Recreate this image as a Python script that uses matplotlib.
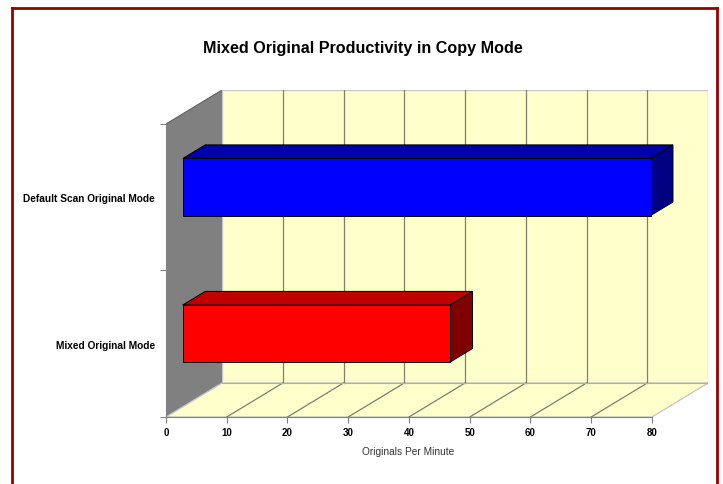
import matplotlib
matplotlib.use("Agg")
import matplotlib.pyplot as plt
from matplotlib.patches import Polygon
from matplotlib.lines import Line2D

# data
categories = ["Mixed Original Mode", "Default Scan Original Mode"]
values = [44, 77]
front_colors = ["#FF0000", "#0000FF"]
top_colors = ["#C00000", "#0000A8"]
side_colors = ["#800000", "#000080"]
x_ticks = [0, 10, 20, 30, 40, 50, 60, 70, 80]

title = "Mixed Original Productivity in Copy Mode"
xlabel = "Originals Per Minute"

plt.rcParams['font.family'] = ['Liberation Sans', 'DejaVu Sans']

# 3d look: depth offset in data units
XMAX = 80
DX = 9.22
DY = 0.232
D0, D1 = 0.30, 0.70
H = 0.195

fig = plt.figure(figsize=(7.23, 4.85), dpi=100)
ax = fig.add_axes([166 / 723, 1 - 418 / 485, 542 / 723, 327 / 485])
ax.set_xlim(0, XMAX + DX)
ax.set_ylim(0, len(categories) + DY)

grid_col = "#7f7f6a"

# side wall (gray)
ax.add_patch(Polygon([(0, 0), (DX, DY), (DX, 2 + DY), (0, 2)],
                     closed=True, facecolor="#808080", edgecolor="#606060", lw=0.8, zorder=1))
# back wall
ax.add_patch(Polygon([(DX, DY), (XMAX + DX, DY), (XMAX + DX, 2 + DY), (DX, 2 + DY)],
                     closed=True, facecolor="#FFFFCC", edgecolor="#c8c8c8", lw=1.0, zorder=1))
# floor
ax.add_patch(Polygon([(0, 0), (XMAX, 0), (XMAX + DX, DY), (DX, DY)],
                     closed=True, facecolor="#FFFFCC", edgecolor="#c8c8c8", lw=1.0, zorder=1))

# gridlines on back wall and floor
for t in x_ticks[1:-1]:
    ax.plot([t + DX, t + DX], [DY, 2 + DY], color=grid_col, lw=0.9, zorder=2)
    ax.plot([t, t + DX], [0, DY], color=grid_col, lw=0.9, zorder=2)
ax.plot([DX, XMAX + DX], [DY, DY], color="#b0b0a0", lw=0.8, zorder=2)

# bars
for i, (v, fc, tc, sc) in enumerate(zip(values, front_colors, top_colors, side_colors)):
    c = i + 0.5
    x0f, x0b = D0 * DX, D1 * DX
    y0f, y0b = D0 * DY, D1 * DY
    front = [(x0f, c - H + y0f), (v + x0f, c - H + y0f), (v + x0f, c + H + y0f), (x0f, c + H + y0f)]
    top = [(x0f, c + H + y0f), (v + x0f, c + H + y0f), (v + x0b, c + H + y0b), (x0b, c + H + y0b)]
    side = [(v + x0f, c - H + y0f), (v + x0b, c - H + y0b), (v + x0b, c + H + y0b), (v + x0f, c + H + y0f)]
    for pts, col in [(top, tc), (side, sc), (front, fc)]:
        ax.add_patch(Polygon(pts, closed=True, facecolor=col, edgecolor="black", lw=0.7, zorder=3))

# axes
for s in ["top", "right"]:
    ax.spines[s].set_visible(False)
ax.spines["bottom"].set_bounds(0, XMAX)
ax.spines["left"].set_bounds(0, 2)
ax.spines["bottom"].set_color("#808080")
ax.spines["left"].set_color("#808080")
ax.set_facecolor("white")

ax.set_xticks(x_ticks)
ax.set_xticklabels([str(t) for t in x_ticks], fontsize=7, fontweight="bold")
ax.tick_params(axis="x", length=4, color="#808080", pad=3)

ax.set_yticks([0, 1, 2])
ax.set_yticklabels([])
ax.set_yticks([0.5, 1.5], minor=True)
ax.set_yticklabels(categories, minor=True, fontsize=7.3, fontweight="bold")
ax.tick_params(axis="y", which="major", length=4, color="#808080")
ax.tick_params(axis="y", which="minor", length=0, pad=8)

fig.text(408.5 / 723, 1 - 452 / 485, xlabel, ha="center", va="center",
         fontsize=7.3, color="#333333")

fig.text(363 / 723, 1 - 48 / 485, title, ha="center", va="center",
         fontsize=11.6, fontweight="bold")

# dark red frame
bc = "#990000"
fig.add_artist(Line2D([11.5 / 723, 11.5 / 723], [0, 1 - 8.5 / 485], color=bc, lw=2, transform=fig.transFigure))
fig.add_artist(Line2D([11.5 / 723, 716.5 / 723], [1 - 8.5 / 485, 1 - 8.5 / 485], color=bc, lw=2, transform=fig.transFigure))
fig.add_artist(Line2D([716.5 / 723, 716.5 / 723], [0, 1 - 8.5 / 485], color=bc, lw=2, transform=fig.transFigure))

fig.savefig("out.png", dpi=100)
